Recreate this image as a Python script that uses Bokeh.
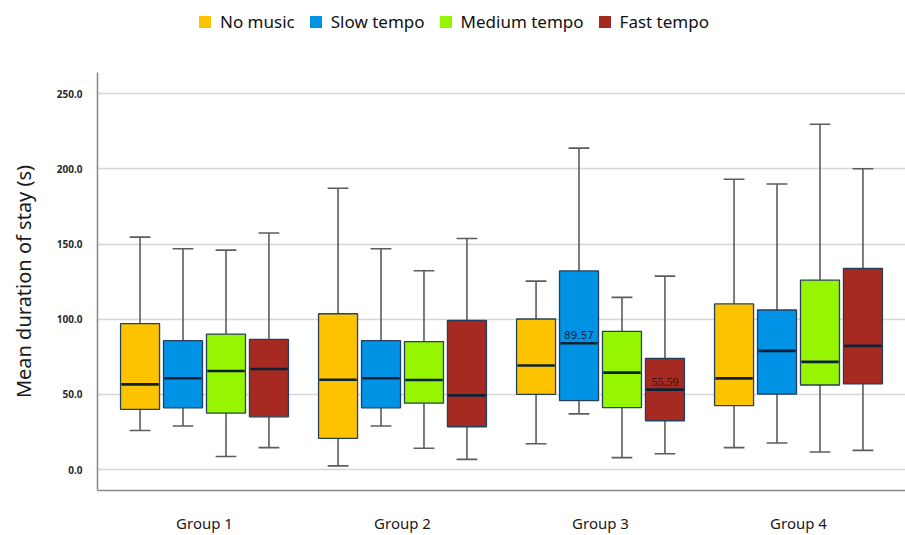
from bokeh.plotting import figure
from bokeh.layouts import column
from bokeh.models import (Legend, LegendItem, FixedTicker, NumeralTickFormatter,
                          ColumnDataSource)
from bokeh.core.properties import value
from bokeh.embed import file_html
from bokeh.resources import INLINE

# ---------------- data ----------------
groups = ["Group 1", "Group 2", "Group 3", "Group 4"]
series = ["No music", "Slow tempo", "Medium tempo", "Fast tempo"]
colors = ["#FDC300", "#0092E5", "#96F500", "#A62A22"]

# rows = groups, columns = series (No music, Slow, Medium, Fast)
whisker_low = [[26.0, 29.0, 8.7, 14.6],
               [2.5, 29.0, 14.2, 6.8],
               [17.2, 37.1, 8.0, 10.6],
               [14.6, 17.7, 11.7, 12.8]]
q1 = [[40.1, 41.1, 37.6, 35.1],
      [20.8, 41.1, 44.2, 28.5],
      [50.1, 45.9, 41.3, 32.5],
      [42.6, 50.3, 56.3, 57.0]]
median = [[56.7, 60.8, 65.6, 66.9],
          [59.8, 60.8, 59.6, 49.4],
          [69.3, 84.1, 64.5, 53.2],
          [60.7, 79.0, 71.7, 82.3]]
q3 = [[97.1, 85.8, 90.1, 86.6],
      [103.7, 85.8, 85.2, 99.2],
      [100.2, 132.2, 92.0, 74.0],
      [110.2, 106.2, 126.0, 133.8]]
whisker_high = [[154.7, 146.9, 146.0, 157.4],
                [187.2, 146.9, 132.3, 153.8],
                [125.4, 213.9, 114.6, 128.7],
                [193.2, 190.0, 229.8, 200.2]]

y_ticks = [0, 50, 100, 150, 200, 250]

# value labels: (group index, series index, value)
label_group = [2, 2]
label_series = [1, 3]
label_value = [89.57, 55.59]

# ---------------- layout constants ----------------
BOX_PITCH = 0.217
BOX_W = 0.197
CAP_W = 0.105
LEG_H = 44
W, H = 905, 535

# ---------------- per-series sources ----------------
sources = []
for si, name in enumerate(series):
    xs = [gi + 1 + (si - 1.5) * BOX_PITCH for gi in range(len(groups))]
    sources.append(ColumnDataSource(dict(
        x=xs,
        lo=[row[si] for row in whisker_low],
        q1=[row[si] for row in q1],
        med=[row[si] for row in median],
        q3=[row[si] for row in q3],
        hi=[row[si] for row in whisker_high],
        left=[x - BOX_W / 2 for x in xs], right=[x + BOX_W / 2 for x in xs],
        cl=[x - CAP_W / 2 for x in xs], cr=[x + CAP_W / 2 for x in xs],
        ml=[x - BOX_W / 2 + 0.004 for x in xs], mr=[x + BOX_W / 2 - 0.004 for x in xs])))

# ---------------- legend strip ----------------
lg = figure(width=W, height=LEG_H, output_backend="svg", toolbar_location=None,
            x_range=(-20, -19), y_range=(-20, -19), x_axis_location=None,
            y_axis_location=None, min_border=0, min_border_left=97)
lg.outline_line_color = None
lg.grid.visible = False
legend_items = []
for si, name in enumerate(series):
    # same box data, but outside this strip's view: used only for the swatch
    sw = lg.quad(left="left", right="right", bottom="q1", top="q3", source=sources[si],
                 fill_color=colors[si], line_color=None)
    legend_items.append(LegendItem(label=name, renderers=[sw]))
legend = Legend(items=legend_items, orientation="horizontal",
                location=(100, 11), margin=0, padding=0,
                glyph_width=15, glyph_height=15, label_standoff=8, spacing=13,
                label_text_font="Noto Sans", label_text_font_size="17px",
                label_text_color="#111111", border_line_color=None,
                background_fill_alpha=0)
lg.add_layout(legend, "center")

# ---------------- main chart ----------------
p = figure(width=W, height=H - LEG_H, output_backend="svg", toolbar_location=None,
           x_range=(0.4596, 4.5404), y_range=(-13.9, 264.2),
           min_border_left=97, min_border_top=72 - LEG_H, min_border_right=0,
           min_border_bottom=42)
p.outline_line_color = None
p.background_fill_color = "white"

wc = "#5c5c5c"
for si, name in enumerate(series):
    src = sources[si]
    p.segment(x0="x", y0="q3", x1="x", y1="hi", source=src, line_color=wc, line_width=1.6)
    p.segment(x0="x", y0="q1", x1="x", y1="lo", source=src, line_color=wc, line_width=1.6)
    p.segment(x0="cl", y0="hi", x1="cr", y1="hi", source=src, line_color=wc, line_width=1.6)
    p.segment(x0="cl", y0="lo", x1="cr", y1="lo", source=src, line_color=wc, line_width=1.6)
    p.quad(left="left", right="right", bottom="q1", top="q3", source=src,
           fill_color=colors[si], line_color="#24405a", line_width=1.3)
    p.segment(x0="ml", y0="med", x1="mr", y1="med", source=src,
              line_color="#0b2236", line_width=2.6)

# value annotations
fonts = ["DejaVu Sans", "Liberation Serif"]
tcolors = ["#13283c", "#3b0f0c"]
sizes = ["10.5px", "12px"]
yoffs = [0, -4]
for k in range(len(label_value)):
    gx = label_group[k] + 1 + (label_series[k] - 1.5) * BOX_PITCH
    p.text(x=[gx], y=[label_value[k]], text=[f"{label_value[k]:.2f}"],
           text_align="center", text_baseline="middle", y_offset=yoffs[k],
           text_font=value(fonts[k]), text_font_size=sizes[k],
           text_color=tcolors[k])

# axes
p.xgrid.grid_line_color = None
p.ygrid.ticker = FixedTicker(ticks=y_ticks)
p.ygrid.grid_line_color = "#d6d6d6"
p.ygrid.grid_line_width = 1.6

p.yaxis.ticker = FixedTicker(ticks=y_ticks)
p.yaxis.formatter = NumeralTickFormatter(format="0.0")
p.yaxis.axis_label = "Mean duration of stay (s)"
p.yaxis.axis_label_text_font = "Noto Sans"
p.yaxis.axis_label_text_font_style = "normal"
p.yaxis.axis_label_text_font_size = "20px"
p.yaxis.axis_label_text_color = "#1a1a1a"
p.yaxis.axis_label_standoff = 17
p.yaxis.major_label_text_font = "Noto Sans"
p.yaxis.major_label_text_font_style = "bold"
p.yaxis.major_label_text_font_size = "10px"
p.yaxis.major_label_text_color = "#2a2a2a"
p.yaxis.major_label_standoff = 15
p.yaxis.major_tick_line_color = None
p.yaxis.major_tick_out = 0
p.yaxis.minor_tick_line_color = None
p.yaxis.axis_line_color = "#8c8c8c"
p.yaxis.axis_line_width = 1.6

p.xaxis.ticker = FixedTicker(ticks=[1, 2, 3, 4])
p.xaxis.major_label_overrides = {i + 1: g for i, g in enumerate(groups)}
p.xaxis.major_label_text_font = "Noto Sans"
p.xaxis.major_label_text_font_size = "15px"
p.xaxis.major_label_text_color = "#1a1a1a"
p.xaxis.major_label_standoff = 22
p.xaxis.major_tick_line_color = None
p.xaxis.major_tick_out = 0
p.xaxis.minor_tick_line_color = None
p.xaxis.axis_line_color = "#8c8c8c"
p.xaxis.axis_line_width = 1.6

layout = column(lg, p, spacing=0)
open("out.html", "w").write(file_html(layout, INLINE))
